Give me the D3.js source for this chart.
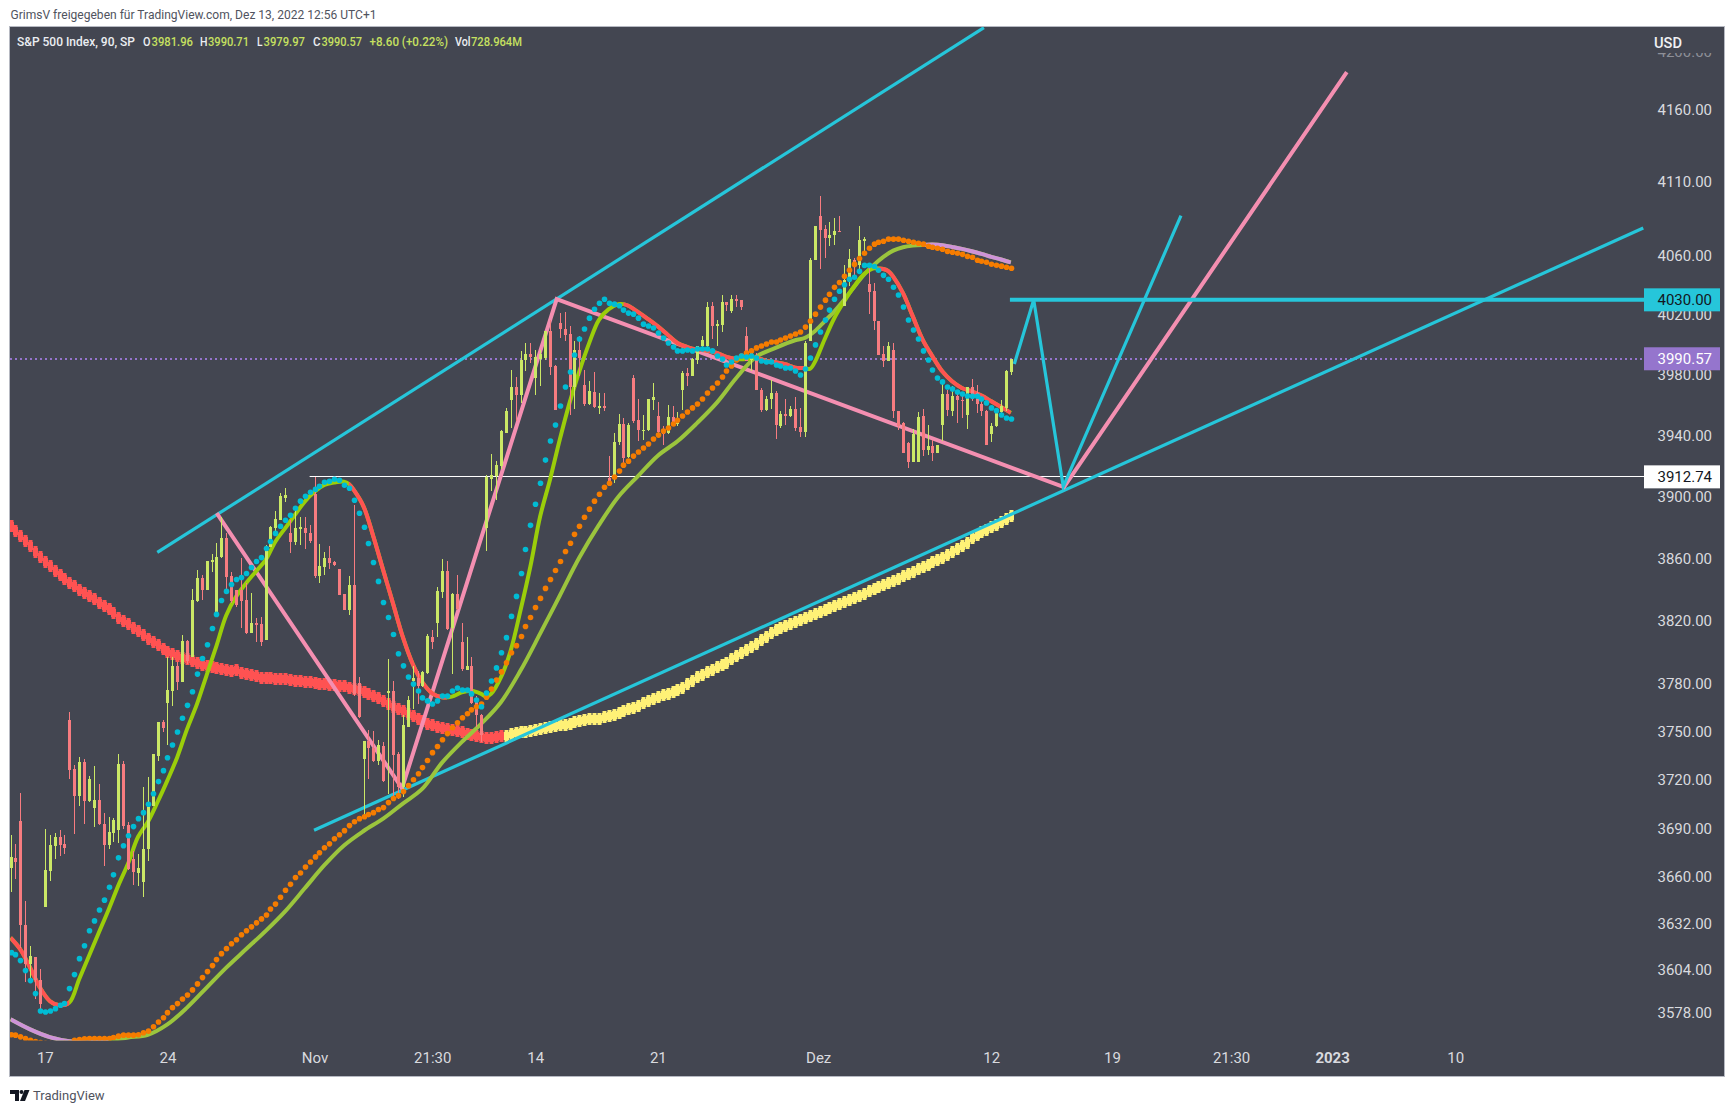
<!DOCTYPE html>
<html>
<head>
<meta charset="utf-8">
<title>S&amp;P 500 Index, 90</title>
<script src="https://cdnjs.cloudflare.com/ajax/libs/d3/7.8.5/d3.min.js"></script>
<style>
  html, body { margin: 0; padding: 0; background: #fff; }
  svg { display: block; }
  text { font-family: Roboto, "Open Sans", sans-serif; }
</style>
</head>
<body>
<svg id="chart" width="1734" height="1112"></svg>
<script>
// Candles, one entry per 90-minute bar
const opens = [
  3665.4,3671.8,3694.3,3631.2,3607.2,3611.8,3597.8,3641.6,3664,3679,
  3684.6,3680,3757.3,3726.4,3709.9,3730.7,3706.6,3702.5,3707.2,3692.4,
  3679.4,3686.8,3688.7,3729.5,3691.8,3670.8,3662.3,3656.8,3677,3703.7,
  3735,3756,3767.8,3775.2,3790.9,3780.9,3806.9,3796.9,3832.5,3847.2,
  3839.5,3857.4,3824.6,3860.7,3873,3848.5,3839.5,3839.5,3833.1,3812.2,
  3818.4,3817.8,3807.5,3866.9,3879.3,3884.7,3899.2,3876.5,3870.6,3878.9,
  3879.3,3876,3901.4,3848.5,3854.5,3860,3857.4,3853,3837,3826.7,
  3842.7,3780.4,3732.7,3743.9,3740,3731.5,3740.8,3774.2,3775.6,3735.8,
  3715.5,3752.8,3781.9,3783.6,3778.8,3786.6,3809.4,3818.6,3838.5,3851.7,
  3815.4,3837,3806.2,3788.8,3790.9,3768.4,3760.5,3879.8,3911.5,3913.4,
  3920,3941.4,3963.5,3971.6,3966.8,3990,3994,3977.8,3990.4,3991.1,
  4008.9,3986,4014.4,4010.4,4007.3,3971.8,3996.7,3973.4,3960.8,3968.8,
  3958.2,3959.5,3912,3911.3,3935.3,3947.6,3925.6,3977.8,3950.2,3943.2,
  3943.2,3963.5,3952.9,3943.6,3941.4,3952,3947.2,3969.6,3981.3,3978.9,
  3989.8,3998.9,3998.9,4026,4012.2,4013.3,4028.4,4022.2,4030.4,4030,
  4005.5,3990,3990,3970.1,3956.4,3964.1,3967.9,3946.3,3954,3952.9,
  3957.3,3945.4,3941.9,4002.7,4056.8,4087,4078.1,4071.9,4073.5,4076.7,
  4026.1,4042.3,4057.2,4053.4,4069.9,4040.7,4036.1,4016,3994,3988.9,
  3996.7,3956.2,3948,3934.8,3922.7,3922.7,3952.9,3930.4,3932.6,3928.6,
  3946.9,3967.4,3956.2,3966.1,3963.5,3953.1,3971.8,3967.9,3960.8,3956,
  3941,3946.3,3955.1,3958,3981.96
];
const highs = [
  3685.6,3680.4,3712,3645.6,3618,3611.8,3604.6,3689.7,3686,3687,
  3689,3686,3762.2,3729.3,3733.8,3732.6,3722.1,3728.2,3717.1,3699.2,
  3696.7,3696.3,3735.7,3731.3,3693.8,3676.3,3674.3,3715.5,3721.4,3736.1,
  3756,3757.3,3796.6,3796.6,3793.7,3810.7,3807.5,3840,3852.3,3849.1,
  3858.1,3862.4,3869.5,3886.9,3876,3851.3,3839.5,3860.2,3843.8,3837.4,
  3821.4,3822.5,3868.5,3880.8,3890.6,3902,3905.7,3884.7,3893.4,3886.9,
  3886.9,3881.5,3912.74,3869.1,3864.1,3867.8,3858.1,3853,3837,3848.5,
  3894.5,3784.5,3744.1,3750.7,3750.3,3744.5,3743.5,3795.4,3781.9,3737.3,
  3760.1,3772.5,3791.5,3788.3,3788.3,3811.4,3813.9,3841.7,3859.4,3858.1,
  3837.4,3849.1,3818.6,3809.7,3796.9,3772.5,3761.2,3914,3927.8,3922.8,
  3943.6,3958,3983.3,3978.5,3995.5,4001,4001,3996.7,3996.7,4008.9,
  4016.6,3986.7,4021,4022,4012.2,4002.2,4005.5,3983.3,3975.6,3981.8,
  3967.9,3967.9,3926.6,3941.4,3954,3951.3,3948,3980,3964.1,3953.6,
  3964.1,3974.5,3961.9,3945.8,3959.7,3959,3955.3,3982.2,3984.4,3991.1,
  3999.3,4006,4028.8,4028.8,4016.6,4033.3,4028.4,4033.3,4033.3,4030,
  4011.7,3997.8,3994.4,3971.2,3965.7,3976.7,3969,3955.8,3964.1,3959,
  3965.2,3958,4002.2,4057.9,4080.1,4100.7,4080.4,4082.4,4085.4,4087,
  4053.4,4064.3,4058.5,4080.1,4072.4,4051.9,4041.2,4016,3998.9,4001.6,
  4001.1,3956.2,3948.7,3935.5,3944,3955.3,3957.5,3946.9,3937,3933.7,
  3973.8,3970.1,3972.3,3967.9,3966.8,3971.8,3977.1,3973.4,3965.7,3956.4,
  3948,3956.9,3963.5,3983.3,3990.71
];
const lows = [
  3651,3658.8,3617.2,3596.6,3597.2,3586.2,3580.6,3641.6,3657.8,3671.2,
  3673.2,3674.3,3720.2,3686.2,3703.7,3692.4,3706.2,3690.7,3691.8,3666.6,
  3677,3681.5,3680.9,3689.7,3664.4,3655,3654.5,3648,3670,3703.7,
  3731.3,3749.5,3741.4,3765.7,3776.3,3780.9,3792.2,3796.9,3832.1,3833.1,
  3839.5,3851.3,3824,3860.4,3837.4,3831,3828.9,3815.4,3811.8,3812.2,
  3806.5,3803.7,3807.5,3866.9,3875,3884.7,3896.6,3863.5,3868.5,3868.5,
  3865.9,3869.5,3847,3844.2,3849.1,3853.2,3855.3,3836.3,3826.7,3823.5,
  3772.5,3758.6,3698,3720.2,3731,3729,3718.6,3711.3,3709.3,3708.3,
  3709.3,3752.8,3764.2,3767.3,3777.7,3786.2,3802.2,3809.7,3834.6,3813.9,
  3786.2,3826.7,3788.3,3788.8,3767.3,3752.8,3743.5,3864.6,3903.2,3897.7,
  3918,3941.4,3944.8,3949.1,3961.3,3982.2,3987.8,3966.8,3972.3,3990,
  3980,3956.4,4004.4,4002.2,3953.6,3957.5,3978.9,3959,3960.2,3958,
  3954.2,3955.8,3909,3908.6,3933.3,3921.7,3925,3948,3936,3936.6,
  3942.5,3956.9,3939.2,3933.3,3941,3946.3,3946.3,3956.9,3972.7,3978.9,
  3987.1,3997.8,3998.4,4003.8,3998.9,4008.2,4022.2,4021,4025.1,4023.3,
  3988.9,3982.2,3969.6,3955.5,3956.2,3957.3,3937.8,3944.8,3946.5,3952,
  3942.5,3938.6,3938.6,4002.3,4056.8,4050.8,4058,4066.6,4067.1,4075.6,
  4026.1,4039.4,4045.6,4047.9,4062.5,4020.7,4010,3993.4,3984.9,3988.9,
  3951.3,3943.2,3928.2,3918.7,3922.7,3922.7,3926.4,3927.1,3923.4,3928.2,
  3935.9,3952.9,3952.5,3948,3951.3,3944.1,3962.4,3954.7,3952.5,3933.3,
  3935.3,3945.4,3952,3955.8,3979.97
];
const closes = [
  3672.2,3669.1,3630.8,3607.2,3612,3597.8,3583.2,3664.6,3679.4,3684.6,
  3679.4,3677.8,3725.8,3709.9,3730.7,3706.6,3720.2,3707.2,3692.4,3679.4,
  3687.5,3694.9,3729.5,3691.2,3665,3663,3665.8,3677,3704.1,3735.7,
  3756,3751.9,3776.3,3790.9,3780.9,3806.9,3794.1,3833.1,3847.2,3839.5,
  3858.1,3858.7,3860.7,3873,3848.1,3832.5,3829.9,3832.5,3812.2,3818.4,
  3817.3,3806.5,3866.9,3880.4,3885.4,3900.3,3901,3870.6,3879.3,3880,
  3876,3871.1,3848.5,3854.9,3860.2,3856.8,3855.5,3836.3,3826.7,3842.7,
  3773.6,3759,3744.1,3739.5,3731.5,3741.4,3719,3775.6,3735.2,3715.5,
  3753.9,3770,3783.6,3778.8,3787.3,3810.1,3806.5,3838.9,3851.7,3815,
  3837,3827.4,3789.4,3790.9,3767.8,3760.1,3747.6,3912.6,3914,3920.7,
  3942.5,3956.2,3971.6,3966.8,3990,3994,3991.8,3991.8,3994,4008.9,
  3985.1,3956.9,4010.6,4006.6,3971.8,3996.7,3991.1,3960.8,3969,3958.4,
  3959.5,3958.2,3909.7,3935.5,3947.6,3925.3,3946.7,3949.6,3943.2,3943.6,
  3963.9,3965.2,3941.9,3941,3952,3946.9,3950.7,3981.3,3978.9,3990.4,
  3998.9,4003.3,4025.1,4012.2,4014,4028.4,4026.6,4030.4,4029.5,4025.5,
  3989.3,3996.7,3969.6,3956.4,3964.1,3967.9,3946.5,3954,3952.9,3957.5,
  3944.5,3941.9,4001.1,4056.8,4080.1,4077.4,4072.1,4074,4076.7,4075.8,
  4043.4,4057.4,4052.3,4070.5,4071,4035,4015.6,3993.4,3988.9,3998.9,
  3955.8,3945.8,3928.2,3922.7,3941,3952,3930.4,3932.6,3928.6,3933.7,
  3967.4,3956.4,3966.1,3963,3963,3971.8,3966.8,3960.6,3955.8,3933.7,
  3946.3,3955.1,3959.5,3982.2,3990.57
];

// Fast dotted average (cyan), one value per bar
const fastDots = [
  3614.2,3613,3609.4,3603.4,3597.4,3589.6,3579.2,3578.6,3579.2,3580.6,
  3582.6,3583.6,3592.6,3601,3610.6,3618.4,3627.4,3633.4,3640,3646,
  3653.8,3661.4,3671.8,3679.2,3685.4,3691,3695.9,3699.6,3704.8,3711.3,
  3718.8,3725.6,3733.6,3741.6,3749.7,3758.3,3766.4,3775,3786.1,3796,
  3804.7,3815,3824,3832.9,3838.7,3843.1,3846.3,3847.6,3850.2,3854,
  3857.9,3860.4,3866.3,3870.8,3876,3880.6,3884.5,3887.8,3892.3,3896.9,
  3900.1,3902.7,3904.7,3906.6,3909.2,3909.9,3911.2,3910.5,3907.3,3905.3,
  3897.5,3889.1,3880,3869.5,3857.2,3845.1,3831.6,3822,3811.2,3799,
  3791.3,3784.3,3779.8,3775.4,3771.1,3769.2,3767.3,3769.2,3772.3,3772.3,
  3775.4,3777.3,3776.1,3776.1,3773.6,3769.8,3765.5,3774.2,3781.7,3790,
  3799.6,3809.2,3822.7,3835.5,3850.2,3865.6,3881.2,3894.9,3908.6,3923.7,
  3936.2,3946.7,3959.3,3971.8,3981.8,3993.1,4003.8,4010.4,4017.7,4023.7,
  4027.7,4030.4,4027.7,4027.1,4026,4023.1,4021.1,4020.4,4017.7,4013.7,
  4012.4,4011.1,4007.8,4004.4,4001.1,3998.4,3995.8,3995.8,3996.4,3995.8,
  3997.1,3997.1,3997.1,3995.8,3992.4,3990.4,3986.4,3988.4,3991.1,3992.4,
  3991.8,3992.4,3991.1,3989.1,3988.4,3988.4,3986.4,3985.8,3984.4,3984.4,
  3982.4,3979.8,3983.8,3991.1,3999.8,4008.4,4016.4,4023.1,4030.4,4035.8,
  4040.1,4043.9,4045.2,4049.2,4053.2,4053.2,4052.5,4049.9,4046.5,4043.9,
  4038.5,4033.2,4025.2,4016.5,4009.8,4003.8,3995.8,3989.8,3983.1,3977.8,
  3975.2,3971.8,3970.5,3968.5,3967.2,3965.9,3965.7,3965.7,3963.9,3961.3,
  3958,3956.2,3953.3,3951.3,3950.7
];

// Slow dotted average (orange), one value per bar
const slowDots = [
  3565,3564.8,3563.8,3562.8,3561.8,3561,3560.4,3560,3559.8,3559.6,
  3559.6,3559.8,3560,3561.8,3562.2,3562.6,3562.8,3562.8,3562.8,3562.8,
  3562.8,3563.4,3564.2,3564.8,3564.8,3564.8,3565,3566.2,3567.2,3569.8,
  3572.6,3575.2,3578.2,3581.2,3583.6,3586.4,3588.8,3591.8,3595.4,3599.2,
  3602.8,3606.4,3610,3613.6,3616.6,3619.6,3622,3625,3627.4,3629.8,
  3632.2,3634.6,3637,3640.6,3643.6,3647.8,3652,3655.6,3659.8,3662.5,
  3666.2,3669.3,3672.4,3674.9,3678,3680.4,3683.5,3686,3688.5,3691.6,
  3694,3695.9,3697.1,3698.4,3699.6,3701.5,3702.7,3705.8,3708.3,3710.1,
  3712.6,3716.3,3720,3723.7,3727.5,3731.9,3736.8,3740.6,3744.9,3748.7,
  3752.4,3755.5,3758.6,3761.1,3763.6,3765.5,3767.3,3771.5,3776.7,3782.3,
  3787.5,3793.2,3799.6,3804.1,3809.9,3816.3,3822,3828.4,3834.2,3840.6,
  3846.3,3852.1,3857.9,3864.3,3869.6,3875.4,3880.6,3886.5,3891.7,3896.9,
  3901.4,3906,3908.6,3912.6,3916.5,3920.4,3923,3926.3,3929,3931.6,
  3934.2,3937.5,3940.1,3942.7,3944.7,3947.4,3949.8,3952.7,3955.3,3958,
  3960.6,3963.9,3967.9,3971.2,3974.5,3978.5,3982.4,3985.8,3989.8,3992.4,
  3994.4,3995.8,3997.8,3999.1,4000.4,4001.8,4001.8,4003.1,4004.4,4005.8,
  4007.1,4008.4,4011.7,4015.7,4020.4,4025.1,4029.8,4033.8,4038.4,4041.7,
  4045.9,4049.9,4053.9,4057.9,4061.4,4064.8,4067.6,4068.9,4069.6,4071,
  4071,4071,4070.3,4069.6,4068.9,4068.2,4067.6,4066.2,4065.5,4064.8,
  4064.1,4062.7,4062.1,4061.4,4060.7,4059.3,4058.7,4056.7,4056,4055.3,
  4054,4053.3,4052.7,4052,4051.3
];

// Long average drawn as heavy crosses, one value per bar
const longAverage = [
  3880.8,3877.6,3874.5,3871.3,3867.8,3864.1,3860.9,3857.7,3855.1,3851.9,
  3849.1,3846.6,3844.2,3842.1,3839.5,3837.4,3835.7,3833.6,3831,3829.3,
  3827.2,3824.6,3822,3819.9,3817.8,3815.6,3813.5,3810.7,3808.6,3806.5,
  3804.3,3802.2,3800.1,3798.6,3797.5,3796.4,3795.4,3794.3,3793,3792,
  3790.9,3790.5,3789.8,3789.2,3788.5,3787.9,3788.7,3786.8,3786,3785.5,
  3784.7,3783.8,3783.8,3783.8,3783.2,3783.2,3783.2,3782.6,3781.7,3781.7,
  3781.3,3781.3,3780.4,3779.8,3779.8,3779.2,3779.2,3778.8,3778.8,3777.3,
  3776.7,3776,3774.6,3773.5,3772.3,3771,3769.4,3767.3,3765.6,3764.2,
  3762.7,3761,3759.6,3757.9,3756.3,3754.8,3753.8,3753.1,3752.3,3751.7,
  3751,3750.4,3749.4,3748.6,3747.8,3746.9,3746.5,3746.1,3746.1,3746.5,
  3746.9,3747.5,3748.3,3749.2,3749.6,3750,3750.6,3751,3751.7,3752.3,
  3752.7,3753.5,3754,3754.2,3754.8,3755.8,3756.5,3757.1,3757.7,3757.7,
  3758.1,3759,3759.8,3760.4,3761.5,3762.7,3764,3764.8,3766,3767.7,
  3769,3770.2,3771.7,3772.7,3773.5,3774.8,3776.3,3777.5,3779.6,3781.5,
  3784.1,3785.8,3787.5,3789,3790.5,3791.7,3793,3795.4,3797.7,3799.4,
  3801.1,3803.2,3805.4,3807.5,3809.6,3812,3814.1,3815.4,3816.7,3818,
  3819.3,3820.7,3821.8,3823.1,3824.4,3825.7,3826.9,3828,3829.3,3830.6,
  3831.8,3833.3,3834.6,3835.9,3837.2,3838.7,3840.2,3841.6,3842.9,3844.2,
  3845.5,3846.8,3848.3,3849.8,3851.2,3853,3854.4,3855.9,3857.4,3858.9,
  3860.4,3862.1,3864,3866,3867.7,3870,3873,3874.9,3876.6,3878.3,
  3880,3881.7,3883.5,3885.4,3887.3
];
const longFallingUntil = 100;

// Fast smoothed line, read at the listed bars
const fastBars = [
  0,2,4,6,8,10,12,14,16,18,20,22,24,26,28,30,32,34,36,38,40,42,44,46,48,50,52,54,56,58,
  60,62,64,66,68,69,70,72,74,76,78,80,82,84,86,88,90,92,94,96,97,98,100,102,104,106,108,110,
  112,114,116,118,120,122,124,125,126,128,130,132,134,136,138,140,142,144,146,148,150,152,
  154,156,158,160,162,163,164,166,168,170,172,174,176,177,178,179,180,182,184,186,188,190,
  192,194,196,198,200,202,204
];
const fastValues = [
  3623.2,3616.2,3605.2,3593.2,3585.2,3582.6,3584.2,3598.2,3612.2,3626.2,3640.2,3655,3668.5,3684.6,3693.8,
  3706.2,3719.6,3734,3751.5,3767,3785.5,3804,3823.5,3835.3,3843.8,3851.3,3858.7,3870.6,3879.3,3888,
  3896.6,3903,3907.5,3909,3909.6,3908.1,3904.2,3893.4,3873.9,3852.3,3831,3809.6,3792.6,3780.9,3774,3771.5,
  3771.9,3774.6,3775.6,3773.6,3771.9,3773.6,3784,3801,3826.6,3854.5,3886.9,3910.7,
  3937,3961.3,3982.2,4001,4016.6,4023.7,4027.1,4027.1,4026,4021.7,4017.1,4012.2,4006.6,4001.1,3998.4,3996.7,
  3996,3994.4,3991.8,3990.4,3990.4,3991.1,3989.3,3988.2,3986.9,3984.7,3984.4,3983.8,3988.2,4003.4,4017.8,
  4029,4039,4047.2,4051.2,4051.2,4050.8,4049.4,4045.6,4034.5,4018.9,4003.4,3992.2,3982.2,3975.6,3971.2,
  3969,3966.1,3962.4,3958.6,3954.7
];
const fastFallingSpans = [[0,12],[69,89],[125,148],[152,162],[177,204]];

// Slow smoothed line, read at the listed bars
const slowBars = [
  0,4,8,12,16,20,24,28,32,36,40,44,48,52,56,60,64,68,72,76,80,84,88,92,96,100,104,108,112,116,
  120,124,128,132,136,140,144,148,152,156,160,162,164,166,168,170,172,174,176,178,180,182,184,
  186,188,190,192,194,196,198,200,202,204
];
const slowValues = [
  3574.2,3568.2,3563.6,3561.2,3560.6,3561.8,3563.4,3565,3571.2,3581.2,3593.2,3605.2,3616.2,3627.2,3639.2,
  3653.2,3667.3,3679.4,3688.3,3695.9,3705.2,3714.4,3730.6,3743.4,3754.9,3768.4,3788.3,3811.7,3835.9,3860.4,
  3881.5,3899.9,3913.4,3926.6,3936,3948,3961.3,3977.8,3991.8,3997.8,4002.9,4004.5,4008.9,4015.6,4022.3,
  4030,4038.5,4046.8,4053.4,4059,4063.2,4065.5,4066.6,4067.1,4067.3,4066.9,4065.7,4064.4,4062.8,4061,4059,
  4057.2,4055.2
];
const slowFallingSpans = [[0,20],[186,204]];

// Hand-drawn analysis: vertices as [bar, price]; bars past 204 lie in the future
const channelTop = [[29.93,3863.7],[198.5,4217.2]];
const channelBottom = [[61.9,3688.8],[332.95,4078.6]];
const pinkPath = [[42.05,3889.1],[79.84,3714.7],[111.38,4030.5],[214.82,3906],[272.5,4186.1]];
const cyanPath = [[204.7,3987.1],[208.65,4030],[214.68,3906.4],[238.68,4087]];
const targetLevel = 4030;
const targetStartBar = 203.8;
const supportLevel = 3912.74;
const supportStartBar = 61;
const lastClose = 3990.57;

// Axis ticks
const priceTicks = [4200,4160,4110,4060,4020,3980,3940,3900,3860,3820,3780,3750,3720,3690,3660,3632,3604,3578];
const timeBars = [7,32,62,86,107,132,164.7,200,224.6,248.9,269.5,294.6];
const timeLabels = ['17','24','Nov','21:30','14','21','Dez','12','19','21:30','2023','10'];

const C = {
  pane: '#434651', frame: '#b6b9c2', axisText: '#d9dadf',
  up: '#cbe866', down: '#f77c80',
  fastRise: '#9bce0a', fastFall: '#ff5252', slowRise: '#9bc53d', slowFall: '#ce93d8',
  fastDot: '#00bcd4', slowDot: '#f57c00', longFall: '#ff5252', longRise: '#fff176',
  teal: '#26c6da', pink: '#f48fb1', purple: '#9575cd', legendValue: '#c6e060'
};

const PANE = { left: 10, right: 1644, top: 27, bottom: 1040.5, frameRight: 1724, frameBottom: 1076 };

const svg = d3.select('#chart');

const x = d3.scaleLinear().domain([0, 204]).range([10.5, 1010.9]);
const y = d3.scaleLog().domain([4160, 3578]).range([109.5, 1013]);
const col = i => Math.round(x(i));

const defs = svg.append('defs');
defs.append('clipPath').attr('id', 'pane-clip').append('rect')
  .attr('x', PANE.left).attr('y', PANE.top)
  .attr('width', PANE.right - PANE.left).attr('height', PANE.bottom - PANE.top);
defs.append('clipPath').attr('id', 'price-clip').append('rect')
  .attr('x', PANE.right).attr('y', 53)
  .attr('width', 80).attr('height', 1000);

function spanClip(id, spans) {
  const cp = defs.append('clipPath').attr('id', id);
  spans.forEach(([a, b]) => {
    cp.append('rect').attr('x', x(a)).attr('y', 0)
      .attr('width', x(b) - x(a)).attr('height', 1112);
  });
}
spanClip('fast-falling', fastFallingSpans);
spanClip('slow-falling', slowFallingSpans);

// Pane background
svg.append('rect')
  .attr('x', PANE.left - 0.5).attr('y', PANE.top - 0.5)
  .attr('width', PANE.frameRight - PANE.left + 1).attr('height', PANE.frameBottom - PANE.top + 1)
  .attr('fill', C.pane).attr('stroke', C.frame).attr('stroke-width', 1);

const plot = svg.append('g').attr('clip-path', 'url(#pane-clip)');

// Long average as crosses: a tall stem and a short wide bar at each point
const longG = plot.append('g');
longG.selectAll('rect.stem').data(longAverage).join('rect').attr('class', 'stem')
  .attr('x', (d, i) => col(i) - 1.5).attr('width', 4)
  .attr('y', d => Math.round(y(d)) - 6).attr('height', 12)
  .attr('fill', (d, i) => i <= longFallingUntil ? C.longFall : C.longRise);
longG.selectAll('rect.arm').data(longAverage).join('rect').attr('class', 'arm')
  .attr('x', (d, i) => col(i) - 2).attr('width', 5)
  .attr('y', d => Math.round(y(d)) - 4).attr('height', 8)
  .attr('fill', (d, i) => i <= longFallingUntil ? C.longFall : C.longRise);

// Dotted last-price line and the two horizontal levels
const lineXY = d3.line().x(d => x(d[0])).y(d => y(d[1]));

plot.append('line')
  .attr('x1', PANE.left).attr('x2', PANE.right)
  .attr('y1', Math.round(y(lastClose))).attr('y2', Math.round(y(lastClose)))
  .attr('stroke', C.purple).attr('stroke-width', 2).attr('stroke-dasharray', '2 3');

plot.append('line')
  .attr('x1', x(supportStartBar)).attr('x2', PANE.right)
  .attr('y1', Math.floor(y(supportLevel)) + 0.5).attr('y2', Math.floor(y(supportLevel)) + 0.5)
  .attr('stroke', '#ffffff').attr('stroke-width', 1);

// Trend channel and projected paths
[channelTop, channelBottom].forEach(seg => {
  plot.append('path').attr('d', lineXY(seg)).attr('fill', 'none')
    .attr('stroke', C.teal).attr('stroke-width', 3.2);
});
plot.append('path').attr('d', lineXY(pinkPath)).attr('fill', 'none')
  .attr('stroke', C.pink).attr('stroke-width', 4).attr('stroke-linejoin', 'miter');
plot.append('path').attr('d', lineXY(cyanPath)).attr('fill', 'none')
  .attr('stroke', C.teal).attr('stroke-width', 3.2);
plot.append('line')
  .attr('x1', x(targetStartBar)).attr('x2', PANE.right)
  .attr('y1', y(targetLevel)).attr('y2', y(targetLevel))
  .attr('stroke', C.teal).attr('stroke-width', 4);

// Smoothed lines, recoloured over the bars where they fall
const curve = d3.line().x(d => x(d[0])).y(d => y(d[1])).curve(d3.curveCatmullRom.alpha(0.5));
const slowPts = d3.zip(slowBars, slowValues);
const fastPts = d3.zip(fastBars, fastValues);

plot.append('path').attr('d', curve(slowPts)).attr('fill', 'none')
  .attr('stroke', C.slowRise).attr('stroke-width', 4);
plot.append('g').attr('clip-path', 'url(#slow-falling)').append('path')
  .attr('d', curve(slowPts)).attr('fill', 'none')
  .attr('stroke', C.slowFall).attr('stroke-width', 4);
plot.append('path').attr('d', curve(fastPts)).attr('fill', 'none')
  .attr('stroke', C.fastRise).attr('stroke-width', 4);
plot.append('g').attr('clip-path', 'url(#fast-falling)').append('path')
  .attr('d', curve(fastPts)).attr('fill', 'none')
  .attr('stroke', C.fastFall).attr('stroke-width', 4);

// Candles
const candles = d3.range(opens.length).map(i => ({
  i, o: opens[i], h: highs[i], l: lows[i], c: closes[i]
}));
const candleColor = d => d.c >= d.o ? C.up : C.down;
const candleG = plot.append('g');
candleG.selectAll('rect.wick').data(candles).join('rect').attr('class', 'wick')
  .attr('x', d => col(d.i)).attr('width', 1)
  .attr('y', d => Math.round(y(d.h)))
  .attr('height', d => Math.max(1, Math.round(y(d.l)) - Math.round(y(d.h))))
  .attr('fill', candleColor);
candleG.selectAll('rect.body').data(candles).join('rect').attr('class', 'body')
  .attr('x', d => col(d.i) - 1).attr('width', 3)
  .attr('y', d => Math.round(y(Math.max(d.o, d.c))))
  .attr('height', d => Math.max(1, Math.round(y(Math.min(d.o, d.c))) - Math.round(y(Math.max(d.o, d.c)))))
  .attr('fill', candleColor);

// Dotted averages on top of the candles
plot.append('g').selectAll('circle').data(slowDots).join('circle')
  .attr('cx', (d, i) => col(i) + 0.5).attr('cy', d => y(d)).attr('r', 2.8).attr('fill', C.slowDot);
plot.append('g').selectAll('circle').data(fastDots).join('circle')
  .attr('cx', (d, i) => col(i) + 0.5).attr('cy', d => y(d)).attr('r', 2.8).attr('fill', C.fastDot);

// Price axis; the wrapper keeps the top label cut off under the currency band
const yAxis = d3.axisRight(y).tickValues(priceTicks).tickFormat(d3.format('.2f')).tickSize(0);
const yG = svg.append('g').attr('clip-path', 'url(#price-clip)')
  .append('g').attr('transform', `translate(${PANE.right},0)`).call(yAxis);
yG.select('.domain').remove();
yG.selectAll('.tick text')
  .attr('x', 68).attr('text-anchor', 'end')
  .attr('font-family', 'Roboto').attr('font-size', 15)
  .attr('fill', d => d === 4200 ? '#8e9098' : C.axisText);

// Price flags at the scale
function priceFlag(value, fill, textColor) {
  const cy = y(value);
  svg.append('rect').attr('x', PANE.right).attr('y', cy - 11.5)
    .attr('width', 76).attr('height', 23).attr('fill', fill);
  svg.append('text').attr('x', 1712).attr('y', cy).attr('dy', '0.36em')
    .attr('text-anchor', 'end').attr('font-size', 15).attr('fill', textColor)
    .text(d3.format('.2f')(value));
}
priceFlag(targetLevel, C.teal, '#131722');
priceFlag(lastClose, C.purple, '#ffffff');
priceFlag(supportLevel, '#ffffff', '#131722');

svg.append('text').attr('x', 1654).attr('y', 47.5)
  .attr('font-size', 14.5).attr('font-weight', 500).attr('fill', '#f0f1f4')
  .attr('textLength', 28).attr('lengthAdjust', 'spacingAndGlyphs').text('USD');

// Time axis
const xAxis = d3.axisBottom(x).tickValues(timeBars).tickFormat((d, i) => timeLabels[i]).tickSize(0);
const xG = svg.append('g').attr('transform', `translate(0,${PANE.bottom})`).call(xAxis);
xG.select('.domain').remove();
xG.selectAll('.tick text')
  .attr('y', 12).attr('font-family', 'Roboto').attr('font-size', 15)
  .attr('fill', C.axisText)
  .attr('font-weight', (d, i) => timeLabels[i] === '2023' ? 700 : 400);

// Attribution line above the pane
svg.append('text').attr('x', 10.5).attr('y', 19)
  .attr('font-size', 12.5).attr('fill', '#50535e')
  .attr('textLength', 366).attr('lengthAdjust', 'spacingAndGlyphs')
  .text('GrimsV freigegeben für TradingView.com, Dez 13, 2022 12:56 UTC+1');

// Legend row: text, left edge, width, colour
const legendY = 46;
const legendItems = [
  ['S&P 500 Index, 90, SP', 17, 118, '#eceef2'],
  ['O', 143, 7.5, '#eceef2'], ['3981.96', 151.5, 41.5, C.legendValue],
  ['H', 200, 7.5, '#eceef2'], ['3990.71', 208, 41, C.legendValue],
  ['L', 257, 5.5, '#eceef2'], ['3979.97', 263.5, 41.5, C.legendValue],
  ['C', 313, 7.5, '#eceef2'], ['3990.57', 321.5, 40.5, C.legendValue],
  ['+8.60 (+0.22%)', 369.5, 78.5, C.legendValue],
  ['Vol', 455, 15.5, '#eceef2'], ['728.964M', 471, 51, C.legendValue]
];
svg.append('g').selectAll('text').data(legendItems).join('text')
  .attr('x', d => d[1]).attr('y', legendY)
  .attr('font-size', 12.5).attr('font-weight', 500).attr('fill', d => d[3])
  .attr('textLength', d => d[2]).attr('lengthAdjust', 'spacingAndGlyphs').text(d => d[0]);

// Wordmark under the pane
const mark = svg.append('g').attr('transform', 'translate(10,1090)').attr('fill', '#131722');
mark.append('path').attr('d', 'M0 0H9V11H5V4H0Z');
mark.append('circle').attr('cx', 11.5).attr('cy', 2).attr('r', 2);
mark.append('path').attr('d', 'M14.5 0H19.5L15 11H10Z');
svg.append('text').attr('x', 33).attr('y', 1099.5)
  .attr('font-size', 13).attr('fill', '#50535e').text('TradingView');
</script>
</body>
</html>
